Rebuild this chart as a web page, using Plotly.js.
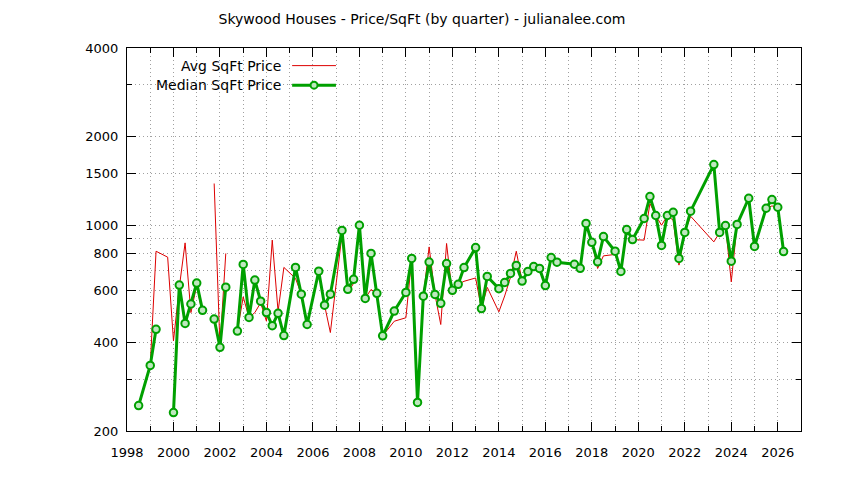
<!DOCTYPE html>
<html>
<head>
<meta charset="utf-8">
<script src="https://cdn.plot.ly/plotly-3.0.1.min.js"></script>
<style>
  html, body { margin: 0; padding: 0; background: #fff; }
  #graph { width: 844px; height: 480px; }
</style>
</head>
<body>
<div id="graph"></div>
<script>
// quarters (decimal year) and price per sq ft
// null = break in the line
var avgQuarters = [1998.5, 1999.0, 1999.25, 1999.75, 2000.0, 2000.25, 2000.5, 2000.75, 2001.0, 2001.25, 2001.5,
	2001.75, 2002.0, 2002.25, 2002.5, 2002.75, 2003.0, 2003.25, 2003.5, 2003.75, 2004.0, 2004.25, 2004.5, 2004.75,
	2005.25, 2005.5, 2005.75, 2006.25, 2006.5, 2006.75, 2007.25, 2007.5, 2007.75, 2008.0, 2008.25, 2008.5, 2008.75,
	2009.0, 2009.5, 2010.0, 2010.25, 2010.5, 2010.75, 2011.0, 2011.25, 2011.5, 2011.75, 2012.0, 2012.25, 2012.5,
	2013.0, 2013.25, 2013.5, 2014.0, 2014.25, 2014.5, 2014.75, 2015.0, 2015.25, 2015.5, 2015.75, 2016.0, 2016.25,
	2016.5, 2017.25, 2017.5, 2017.75, 2018.0, 2018.25, 2018.5, 2019.0, 2019.25, 2019.5, 2019.75, 2020.0, 2020.25,
	2020.5, 2020.75, 2021.0, 2021.25, 2021.5, 2021.75, 2022.0, 2022.25, 2023.25, 2023.5, 2023.75, 2024.0, 2024.25,
	2024.75, 2025.0, 2025.5, 2025.75, 2026.0, 2026.25];
var avgPrice = [244, 334, 816, 779, 405, 615, 871, 505, 625, 498, null,
	1386, 388, 802, null, 437, 571, 486, 505, 545, 472, 890, 510, 719,
	660, 583, 460, 690, 535, 432, 930, 590, 635, 998, 565, 605, 586,
	421, 472, 485, 771, 250, 574, 844, 582, 460, 867, 579, 630, 645,
	662, 521, 615, 508, 575, 665, 816, 646, 697, 724, 713, 624, 760,
	749, 737, 714, 1014, 875, 713, 787, 796, 697, 967, 894, 890, 890,
	1185, 1079, 1000, 1079, 1040, 732, 945, 1073, 878, 945, 998, 642, 1006,
	1235, 847, 1142, 1163, 1151, 814];

var medianQuarters = [1998.5, 1999.0, 1999.25, 1999.5, 2000.0, 2000.25, 2000.5, 2000.75, 2001.0, 2001.25, 2001.5,
	2001.75, 2002.0, 2002.25, 2002.5, 2002.75, 2003.0, 2003.25, 2003.5, 2003.75, 2004.0, 2004.25, 2004.5, 2004.75,
	2005.25, 2005.5, 2005.75, 2006.25, 2006.5, 2006.75, 2007.25, 2007.5, 2007.75, 2008.0, 2008.25, 2008.5, 2008.75,
	2009.0, 2009.5, 2010.0, 2010.25, 2010.5, 2010.75, 2011.0, 2011.25, 2011.5, 2011.75, 2012.0, 2012.25, 2012.5,
	2013.0, 2013.25, 2013.5, 2014.0, 2014.25, 2014.5, 2014.75, 2015.0, 2015.25, 2015.5, 2015.75, 2016.0, 2016.25,
	2016.5, 2017.25, 2017.5, 2017.75, 2018.0, 2018.25, 2018.5, 2019.0, 2019.25, 2019.5, 2019.75, 2020.25,
	2020.5, 2020.75, 2021.0, 2021.25, 2021.5, 2021.75, 2022.0, 2022.25, 2023.25, 2023.5, 2023.75, 2024.0, 2024.25,
	2024.75, 2025.0, 2025.5, 2025.75, 2026.0, 2026.25];
var medianPrice = [244, 334, 443, null, 231, 626, 464, 540, 636, 514, null,
	480, 385, 616, null, 437, 736, 486, 651, 552, 505, 456, 502, 422,
	719, 583, 460, 698, 535, 583, 960, 606, 655, 1000, 564, 802, 587,
	421, 511, 591, 771, 250, 574, 750, 582, 543, 741, 601, 630, 718,
	840, 521, 670, 609, 639, 686, 730, 646, 697, 724, 713, 624, 777,
	749, 737, 714, 1014, 875, 751, 915, 816, 697, 967, 894, 1054,
	1251, 1079, 854, 1079, 1107, 771, 945, 1116, 1607, 945, 998, 755, 1006,
	1235, 847, 1142, 1222, 1151, 814];

var xTickVals = [1998, 2000, 2002, 2004, 2006, 2008, 2010, 2012, 2014, 2016, 2018, 2020, 2022, 2024, 2026];
var xMinorVals = [1999, 2001, 2003, 2005, 2007, 2009, 2011, 2013, 2015, 2017, 2019, 2021, 2023, 2025, 2027];
var yTickVals = [200, 400, 600, 800, 1000, 1500, 2000, 4000];
var yMinorVals = [300, 500, 700, 900, 3000];

var font = "DejaVu Sans, Liberation Sans, sans-serif";
var gridColor = "#a0a0a0";
var gridDash = "1px,3px";

var avg = {
	x: avgQuarters,
	y: avgPrice,
	name: "Avg SqFt Price",
	type: "scatter",
	mode: "lines",
	connectgaps: false,
	line: {color: "#dd0000", width: 1},
	showlegend: false
};

var median = {
	x: medianQuarters,
	y: medianPrice,
	name: "Median SqFt Price",
	type: "scatter",
	mode: "lines+markers",
	connectgaps: false,
	line: {color: "#00a000", width: 3},
	marker: {symbol: "circle", size: 7.5, color: "#bfe8bf", line: {color: "#00a000", width: 2}},
	showlegend: false
};

function axisBase() {
	return {
		showline: true,
		linecolor: "black",
		linewidth: 1,
		mirror: "allticks",
		ticks: "inside",
		ticklen: 9,
		tickcolor: "black",
		tickmode: "array",
		showgrid: true,
		gridcolor: gridColor,
		griddash: gridDash,
		gridwidth: 1,
		zeroline: false,
		fixedrange: true,
		tickfont: {family: font, size: 13, color: "black"}
	};
}

var xaxis = axisBase();
xaxis.range = [1998, 2027];
xaxis.tickvals = xTickVals;
xaxis.ticktext = xTickVals.map(String);
xaxis.ticklabelstandoff = 9;
xaxis.minor = {tickmode: "array", tickvals: xMinorVals, ticks: "inside", ticklen: 5, tickcolor: "black",
	showgrid: true, gridcolor: gridColor, griddash: gridDash, gridwidth: 1};

var yaxis = axisBase();
yaxis.type = "log";
yaxis.range = [Math.log10(200), Math.log10(4000)];
yaxis.tickvals = yTickVals;
yaxis.ticktext = yTickVals.map(String);
yaxis.ticklabelstandoff = 5;
yaxis.minor = {tickmode: "array", tickvals: yMinorVals, ticks: "inside", ticklen: 5, tickcolor: "black",
	showgrid: true, gridcolor: gridColor, griddash: gridDash, gridwidth: 1};

// key drawn gnuplot style: text right aligned, sample on the right
var keyTextX = 0.231;
var keySample = [0.245, 0.310];
var keyRows = [0.954, 0.903];

var layout = {
	width: 844,
	height: 480,
	margin: {l: 127, r: 43, t: 48, b: 49},
	paper_bgcolor: "white",
	plot_bgcolor: "white",
	font: {family: font, size: 13, color: "black"},
	title: {
		text: "Skywood Houses - Price/SqFt (by quarter) - julianalee.com",
		x: 0.5, xref: "container", xanchor: "center",
		y: 0.96, yref: "container", yanchor: "middle",
		font: {family: font, size: 14, color: "black"}
	},
	xaxis: xaxis,
	yaxis: yaxis,
	showlegend: false,
	shapes: [
		{type: "rect", xref: "paper", yref: "paper", x0: 0.037, x1: 0.318, y0: 0.878, y1: 0.972,
			fillcolor: "white", line: {width: 0}, layer: "between"},
		{type: "line", xref: "paper", yref: "paper", x0: keySample[0], x1: keySample[1], y0: keyRows[0], y1: keyRows[0],
			line: {color: "#dd0000", width: 1}},
		{type: "line", xref: "paper", yref: "paper", x0: keySample[0], x1: keySample[1], y0: keyRows[1], y1: keyRows[1],
			line: {color: "#00a000", width: 3}},
		{type: "circle", xref: "paper", yref: "paper", xsizemode: "pixel", ysizemode: "pixel",
			xanchor: (keySample[0] + keySample[1]) / 2, yanchor: keyRows[1], x0: -3.5, x1: 3.5, y0: -3.5, y1: 3.5,
			fillcolor: "#bfe8bf", line: {color: "#00a000", width: 2}}
	],
	annotations: [
		{text: avg.name, xref: "paper", yref: "paper", x: keyTextX, y: keyRows[0], xanchor: "right", yanchor: "middle",
			showarrow: false, font: {family: font, size: 14, color: "black"}},
		{text: median.name, xref: "paper", yref: "paper", x: keyTextX, y: keyRows[1], xanchor: "right", yanchor: "middle",
			showarrow: false, font: {family: font, size: 14, color: "black"}}
	]
};

var config = {displayModeBar: false, staticPlot: true};
Plotly.newPlot("graph", [avg, median], layout, config);
</script>
</body>
</html>
